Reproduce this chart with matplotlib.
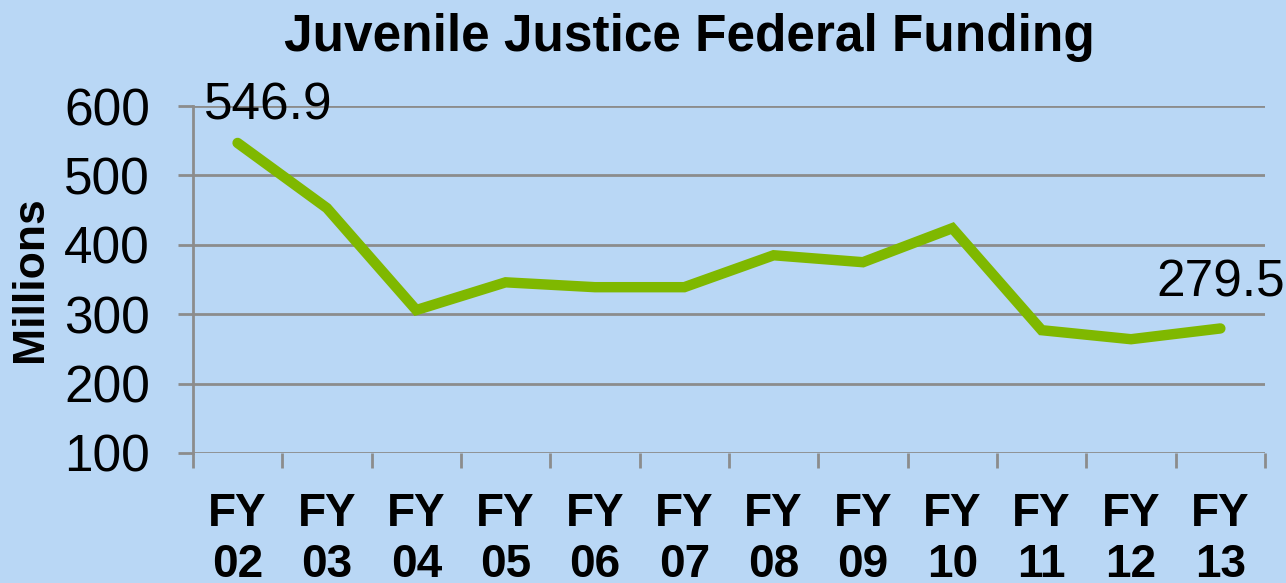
import matplotlib
matplotlib.use('Agg')
import matplotlib.pyplot as plt

# Funding data (millions)
years = ['FY\n02', 'FY\n03', 'FY\n04', 'FY\n05', 'FY\n06', 'FY\n07',
         'FY\n08', 'FY\n09', 'FY\n10', 'FY\n11', 'FY\n12', 'FY\n13']
funding = [546.9, 453, 306, 346, 339, 339, 385, 375, 424, 277, 264, 279.5]
y_ticks = [100, 200, 300, 400, 500, 600]

bg = '#b9d7f5'
green = '#7fb800'
grid = '#8c8c8c'
fam = ['Liberation Sans', 'DejaVu Sans']

fig = plt.figure(figsize=(12.86, 5.83), dpi=100, facecolor=bg)
ax = fig.add_axes([0.150, 0.223, 0.8337, 0.595], facecolor=bg)

x = [i + 0.5 for i in range(len(funding))]
ax.plot(x, funding, color=green, linewidth=7.5, solid_capstyle='round',
        solid_joinstyle='miter', zorder=3)

ax.set_xlim(0, len(funding))
ax.set_ylim(100, 600)
ax.set_yticks(y_ticks)
ax.set_yticklabels([str(t) for t in y_ticks], fontsize=37, family=fam)
ax.set_xticks(range(len(funding) + 1))
ax.set_xticklabels([])
ax.set_xticks(x, minor=True)
ax.set_xticklabels(years, minor=True, fontsize=33, fontweight='bold',
                   family=fam, linespacing=1.2)
ax.tick_params(axis='x', which='minor', length=0, pad=28)
ax.tick_params(axis='x', which='major', length=11, width=2, color=grid)
ax.tick_params(axis='y', length=11, width=2, color=grid, pad=20)

ax.grid(axis='y', color=grid, linewidth=2)
for s in ['top', 'right', 'bottom']:
    ax.spines[s].set_visible(False)
ax.spines['left'].set_color(grid)
ax.spines['left'].set_linewidth(2)

ax.set_ylabel('Millions', fontsize=32, fontweight='bold', family=fam,
              labelpad=9)

# value labels on first and last point
ax.text(0.12, 600, f'{funding[0]}', fontsize=37, family=fam,
        va='center', ha='left')
ax.text(x[-1], 345, f'{funding[-1]}', fontsize=37, family=fam,
        va='center', ha='center')

fig.text(0.536, 0.935, 'Juvenile Justice Federal Funding', fontsize=37,
         fontweight='bold', ha='center', va='center', family=fam)

fig.savefig('out.png', dpi=100, facecolor=bg)
